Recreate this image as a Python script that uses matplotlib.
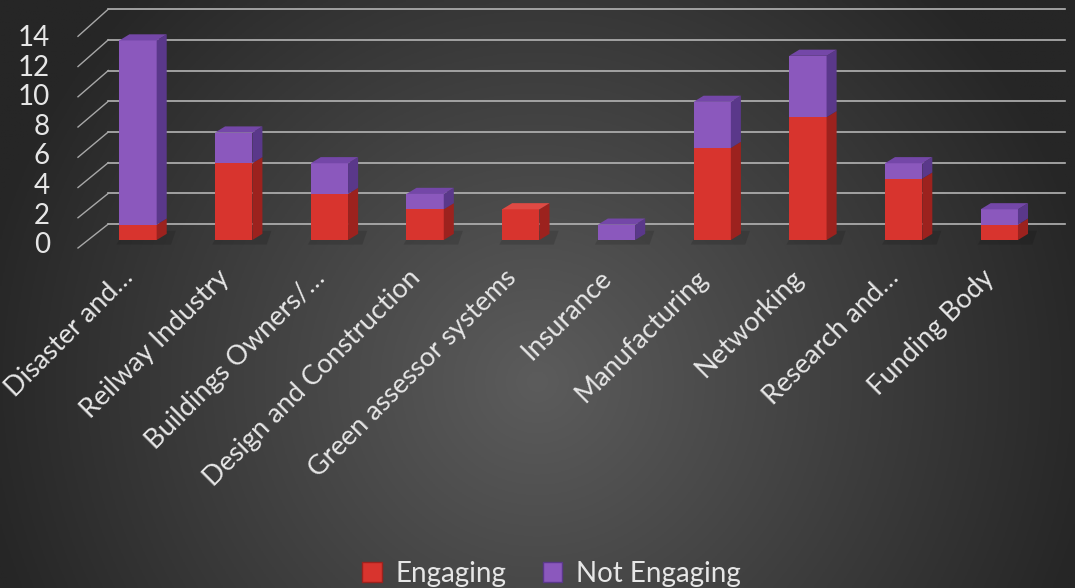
import numpy as np
import matplotlib
matplotlib.use('Agg')
import matplotlib.pyplot as plt
from matplotlib.patches import Polygon, Patch

# Дані
categories = ['Disaster and…', 'Reilway Industry', 'Buildings Owners/…',
              'Design and Construction', 'Green assessor systems', 'Insurance',
              'Manufacturing', 'Networking', 'Research and…', 'Funding Body']
engaging = [1, 5, 3, 2, 2, 0, 6, 8, 4, 1]
not_engaging = [12, 2, 2, 1, 0, 1, 3, 4, 1, 1]
y_ticks = [0, 2, 4, 6, 8, 10, 12, 14]

plt.rcParams['font.family'] = ['Lato', 'DejaVu Sans']
txt_col = '#e6e6e6'

# Кольори граней (фронт, бік, верх)
red = ('#d8342e', '#9c221e', '#e04a44')
purple = ('#8b58bd', '#5a388a', '#7447a8')

fig = plt.figure(figsize=(10.75, 5.88), dpi=100)
ax = fig.add_axes([0, 0, 1, 1])
ax.set_xlim(-1.442, 9.791)
ax.set_ylim(-22.67, 15.635)
ax.axis('off')

# Фон з радіальним градієнтом
gx, gy = np.meshgrid(np.linspace(0, 1, 400), np.linspace(0, 1, 220))
d = np.sqrt(((gx - 0.5) * 1.8) ** 2 + (gy - 0.35) ** 2)
d = np.clip(d / 0.95, 0, 1)
c0 = np.array([0x5c, 0x5c, 0x5c]) / 255
c1 = np.array([0x26, 0x26, 0x26]) / 255
bg = c0[None, None, :] * (1 - d[..., None]) + c1[None, None, :] * d[..., None]
ax.imshow(bg, extent=[-1.442, 9.791, 15.635, -22.67], aspect='auto', zorder=0)
ax.set_ylim(-22.67, 15.635)

# Задня стінка і ліва стінка
wall_dx, wall_dy = 0.31, 1.04
x_back0, x_back1 = -0.31, 9.69
for v in y_ticks:
    ax.plot([x_back0, x_back1], [v + wall_dy, v + wall_dy], color='#b4b4b4', lw=1.2, zorder=1)
    yf = 0.985 * v - 0.52
    ax.plot([-0.627, x_back0], [yf, v + wall_dy], color='#a8a8a8', lw=1.0, zorder=1)
    ax.text(-0.92, 0.965 * v - 0.35, str(v), ha='right', va='center',
            fontsize=20, color=txt_col, zorder=3)

# Стовпці (3D-імітація)
w = 0.39
ddx, ddy = 0.105, 0.4
x = np.arange(len(categories))
for i in x:
    # тінь на підлозі
    xl, xr = i - w / 2, i + w / 2
    shadow = [(xl - 0.03, -0.3), (xr + 0.15, -0.3), (xr + 0.2, 0.6), (xl + 0.05, 0.6)]
    ax.add_patch(Polygon(shadow, closed=True, color='black', alpha=0.13, lw=0, zorder=2))
    segs = [(0, engaging[i], red), (engaging[i], not_engaging[i], purple)]
    top_total = engaging[i] + not_engaging[i]
    for bottom, h, col in segs:
        if h <= 0:
            continue
        ax.bar(i, h, bottom=bottom, width=w, color=col[0], zorder=4, lw=0)
        side = [(xr, bottom), (xr + ddx, bottom + ddy),
                (xr + ddx, bottom + h + ddy), (xr, bottom + h)]
        ax.add_patch(Polygon(side, closed=True, color=col[1], lw=0, zorder=4))
        if bottom + h == top_total:
            top = [(xl, bottom + h), (xr, bottom + h),
                   (xr + ddx, bottom + h + ddy), (xl + ddx, bottom + h + ddy)]
            ax.add_patch(Polygon(top, closed=True, color=col[2], lw=0, zorder=4))

# Підписи категорій
for i, name in zip(x, categories):
    ax.text(i - 0.09, -2.2, name, rotation=45, rotation_mode='anchor',
            ha='right', va='center', fontsize=19.5, color=txt_col, zorder=3)

# Легенда
handles = [Patch(facecolor=red[0], edgecolor=red[1]),
           Patch(facecolor=purple[0], edgecolor=purple[1])]
fig.legend(handles, ['Engaging', 'Not Engaging'], loc='lower center',
           bbox_to_anchor=(0.513, -0.04), ncol=2, frameon=False,
           fontsize=20, labelcolor=txt_col, handlelength=0.7, handleheight=0.7,
           handletextpad=0.5, columnspacing=1.3)

fig.savefig('out.png', dpi=100)
